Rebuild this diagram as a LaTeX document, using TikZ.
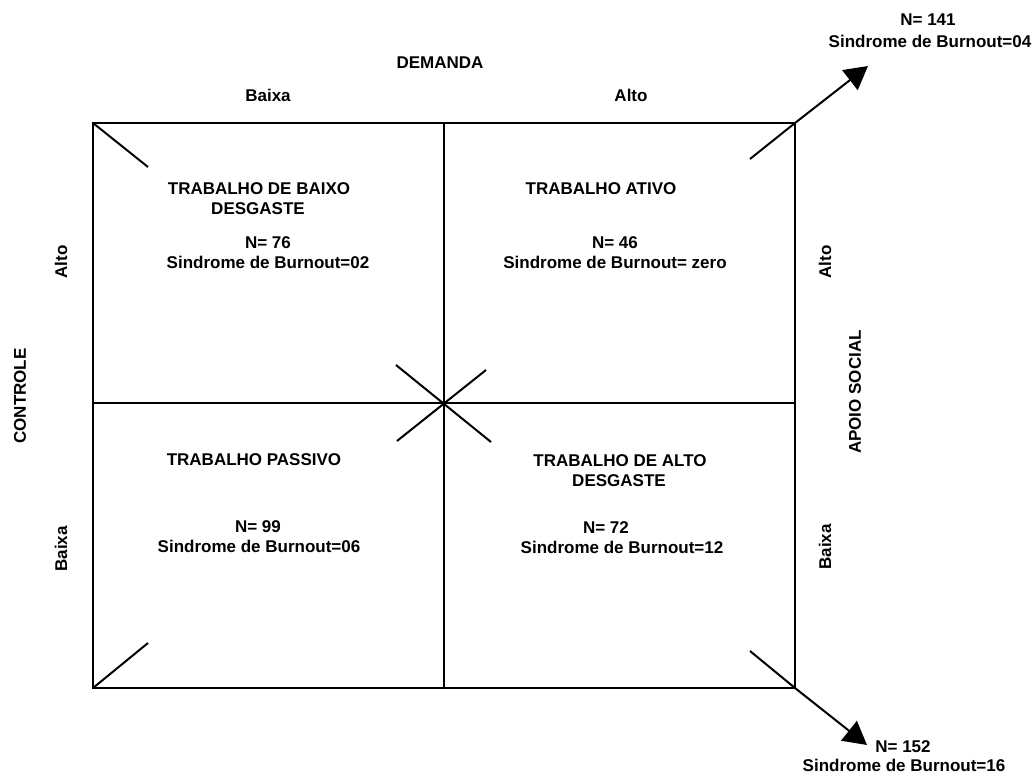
\documentclass[tikz,border=0pt]{standalone}
\usepackage{fontspec}
\setmainfont{Liberation Sans}
\usetikzlibrary{arrows.meta}
\begin{document}
\begin{tikzpicture}[x=1pt,y=-1pt,
  lbl/.style={inner sep=0pt,font=\fontsize{17}{19}\selectfont\bfseries},
  edge/.style={line width=2pt,draw=black},
  arr/.style={line width=2pt,-{Triangle[length=23pt,width=25pt]}}]
\useasboundingbox (0,0) rectangle (1034,774);
% corners
\coordinate (TL) at (93,123);
\coordinate (TR) at (795,123);
\coordinate (BL) at (93,688);
\coordinate (BR) at (795,688);
\coordinate (TM) at (444,123);
\coordinate (BM) at (444,688);
\coordinate (LM) at (93,403);
\coordinate (RM) at (795,403);
\coordinate (C) at (444,403);
% frame
\draw[edge,line join=miter] (TL) rectangle (BR);
\draw[edge] (TM) -- (BM);
\draw[edge] (LM) -- (RM);
% diagonals
\coordinate (tl2) at (148,167);
\coordinate (bl2) at (148,643);
\coordinate (tr0) at (750,159);
\coordinate (br0) at (750,651);
\coordinate (x1) at (396,365);
\coordinate (x2) at (491,442);
\coordinate (x3) at (486,370);
\coordinate (x4) at (397,441);
\draw[edge] (TL) -- (tl2);
\draw[edge] (BL) -- (bl2);
\draw[edge] (x1) -- (x2);
\draw[edge] (x3) -- (x4);
\coordinate (trtip) at (868,66);
\coordinate (brtip) at (867,745);
\draw[edge] (tr0) -- (TR);
\draw[arr] (TR) -- (trtip);
\draw[edge] (br0) -- (BR);
\draw[arr] (BR) -- (brtip);
% top labels
\node[lbl] (dem) at (440,63) {DEMANDA};
\node[lbl] (tb) at (268,95) {Baixa};
\node[lbl] (ta) at (631,95) {Alto};
% left labels
\node[lbl,rotate=90] (ctl) at (20,396) {CONTROLE};
\node[lbl,rotate=90] (la) at (61,262) {Alto};
\node[lbl,rotate=90] (lb) at (61,549) {Baixa};
% right labels
\node[lbl,rotate=90] (aps) at (855,392) {APOIO SOCIAL};
\node[lbl,rotate=90] (ra) at (825,262) {Alto};
\node[lbl,rotate=90] (rb) at (825,547) {Baixa};
% quadrant TL
\node[lbl] (q1a) at (259,189) {TRABALHO DE BAIXO};
\node[lbl] (q1b) at (258,209) {DESGASTE};
\node[lbl] (q1c) at (268,243) {N= 76};
\node[lbl] (q1d) at (268,262) {Sindrome de Burnout=02};
% quadrant TR
\node[lbl] (q2a) at (601,189) {TRABALHO ATIVO};
\node[lbl] (q2c) at (615,243) {N= 46};
\node[lbl] (q2d) at (615,262) {Sindrome de Burnout= zero};
% quadrant BL
\node[lbl] (q3a) at (254,460) {TRABALHO PASSIVO};
\node[lbl] (q3c) at (258,527) {N= 99};
\node[lbl] (q3d) at (259,546) {Sindrome de Burnout=06};
% quadrant BR
\node[lbl] (q4a) at (620,461) {TRABALHO DE ALTO};
\node[lbl] (q4b) at (619,481) {DESGASTE};
\node[lbl] (q4c) at (606,528) {N= 72};
\node[lbl] (q4d) at (622,547) {Sindrome de Burnout=12};
% outer results
\node[lbl] (o1a) at (928,20) {N= 141};
\node[lbl] (o1b) at (930,41) {Sindrome de Burnout=04};
\node[lbl] (o2a) at (903,747) {N= 152};
\node[lbl] (o2b) at (904,765) {Sindrome de Burnout=16};
\end{tikzpicture}
\end{document}
